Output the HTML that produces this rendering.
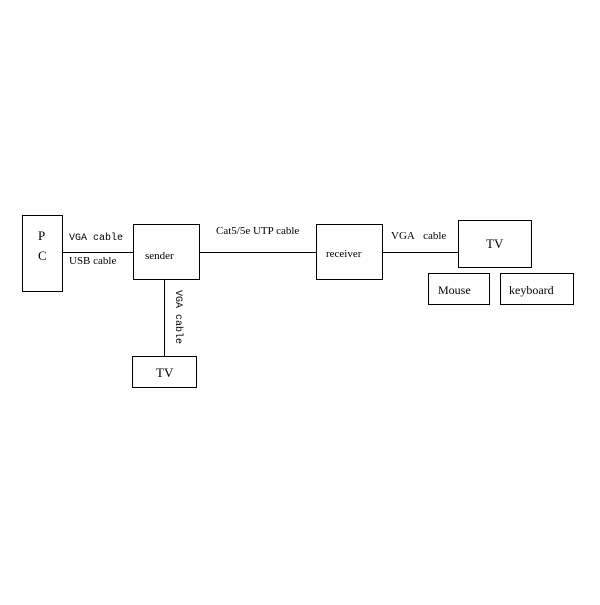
<!DOCTYPE html>
<html><head><meta charset="utf-8"><style>
html,body{margin:0;padding:0;background:#fff;}
svg text{font-family:"Liberation Serif",serif;font-size:11px;fill:#000;}
.m{font-family:"Liberation Mono",monospace;font-size:10px;}
</style></head><body>
<svg width="600" height="600" viewBox="0 0 600 600" xmlns="http://www.w3.org/2000/svg">
<rect width="600" height="600" fill="#fff"/>
<g fill="none" stroke="#000" stroke-width="1">
<rect x="22.5" y="215.5" width="40" height="76"/>
<rect x="133.5" y="224.5" width="66" height="55"/>
<rect x="132.5" y="356.5" width="64" height="31"/>
<rect x="316.5" y="224.5" width="66" height="55"/>
<rect x="458.5" y="220.5" width="73" height="47"/>
<rect x="428.5" y="273.5" width="61" height="31"/>
<rect x="500.5" y="273.5" width="73" height="31"/>
<line x1="62" y1="252.5" x2="133" y2="252.5"/>
<line x1="200" y1="252.5" x2="316" y2="252.5"/>
<line x1="383" y1="252.5" x2="458" y2="252.5"/>
<line x1="164.5" y1="280" x2="164.5" y2="356"/>
</g>
<text x="38" y="240" style="font-size:13px">P</text>
<text x="38" y="260" style="font-size:13px">C</text>
<text class="m" x="69" y="240">VGA cable</text>
<text x="69" y="264">USB cable</text>
<text x="145" y="259">sender</text>
<text x="216" y="234">Cat5/5e UTP cable</text>
<text class="m" transform="translate(176,290) rotate(90)">VGA cable</text>
<text x="156" y="377" style="font-size:13px">TV</text>
<text x="326" y="257">receiver</text>
<text x="391" y="239">VGA&#160;&#160;&#160;cable</text>
<text x="486" y="248" style="font-size:13px">TV</text>
<text x="438" y="294" style="font-size:12px">Mouse</text>
<text x="509" y="294" style="font-size:12px">keyboard</text>
</svg>
</body></html>
